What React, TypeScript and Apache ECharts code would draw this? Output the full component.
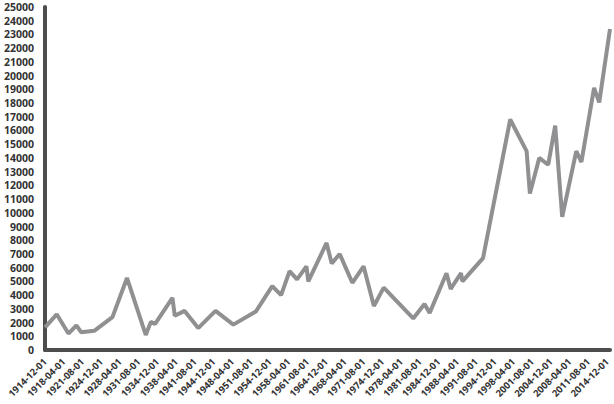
import React, { useEffect, useRef } from 'react';
import * as echarts from 'echarts';

// Vertices of the series (year-month, value)
const dates: string[] = [
  '1914-12', '1917-01', '1919-02', '1920-07', '1921-05', '1923-09', '1926-12',
  '1929-07', '1932-11', '1933-10', '1934-07', '1937-08', '1938-01', '1939-10',
  '1942-03', '1945-04', '1948-06', '1952-06', '1955-05', '1956-12', '1958-06',
  '1959-10', '1961-06', '1961-10', '1965-01', '1965-12', '1967-05', '1969-08',
  '1971-08', '1973-06', '1975-03', '1980-06', '1982-06', '1983-05', '1986-05',
  '1987-02', '1988-12', '1989-03', '1992-11', '1997-09', '2000-08', '2001-03',
  '2002-11', '2004-06', '2005-09', '2006-12', '2009-06', '2010-05', '2012-08',
  '2013-07', '2015-06',
];

const values: number[] = [
  1650, 2600, 1200, 1800, 1300, 1400, 2400,
  5250, 1100, 2050, 1900, 3800, 2500, 2850,
  1600, 2850, 1850, 2800, 4650, 4000, 5750,
  5150, 6100, 5000, 7800, 6300, 7000, 4900,
  6100, 3200, 4550, 2300, 3350, 2700, 5600,
  4450, 5600, 5000, 6700, 16800, 14500, 11400,
  14000, 13500, 16350, 9700, 14500, 13700, 19100,
  18050, 23400,
];

// Labels of the x axis, one every 40 months from 1914-12
const xTickLabels: string[] = [
  '1914-12-01', '1918-04-01', '1921-08-01', '1924-12-01', '1928-04-01',
  '1931-08-01', '1934-12-01', '1938-04-01', '1941-08-01', '1944-12-01',
  '1948-04-01', '1951-08-01', '1954-12-01', '1958-04-01', '1961-08-01',
  '1964-12-01', '1968-04-01', '1971-08-01', '1974-12-01', '1978-04-01',
  '1981-08-01', '1984-12-01', '1988-04-01', '1991-08-01', '1994-12-01',
  '1998-04-01', '2001-08-01', '2004-12-01', '2008-04-01', '2011-08-01',
  '2014-12-01',
];

const TICK_STEP = 40; // months between x labels

// months elapsed since 1914-12
const monthIndex = (d: string) => {
  const [y, m] = d.split('-').map(Number);
  return (y - 1914) * 12 + (m - 12);
};

const AXIS_COLOR = '#4d4d4d';
const LINE_COLOR = '#909092';
const LABEL_FONT = '"Open Sans", "DejaVu Sans", sans-serif';

export default function App() {
  const ref = useRef<HTMLDivElement>(null);

  useEffect(() => {
    if (!ref.current) return;
    const chart = echarts.init(ref.current, undefined, { renderer: 'svg' });

    chart.setOption({
      animation: false,
      grid: {
        left: 45,
        right: 4,
        top: 7,
        bottom: 54,
        containLabel: false,
        outerBoundsMode: 'none',
      },
      xAxis: {
        type: 'value',
        min: 0,
        max: monthIndex(dates[dates.length - 1]),
        interval: TICK_STEP,
        splitLine: { show: false },
        axisTick: { show: false },
        axisLine: { show: true, lineStyle: { color: AXIS_COLOR, width: 4 } },
        axisLabel: {
          rotate: 45,
          margin: 10,
          fontSize: 9.5,
          fontWeight: 'bold',
          fontFamily: LABEL_FONT,
          color: '#333',
          showMaxLabel: false,
          formatter: (v: number) =>
            v % TICK_STEP === 0 ? xTickLabels[v / TICK_STEP] ?? '' : '',
        },
      },
      yAxis: {
        type: 'value',
        min: 0,
        max: 25000,
        interval: 1000,
        splitLine: { show: false },
        axisTick: { show: false },
        axisLine: { show: true, lineStyle: { color: AXIS_COLOR, width: 4 } },
        axisLabel: {
          margin: 11,
          fontSize: 10.5,
          fontWeight: 'bold',
          fontFamily: LABEL_FONT,
          color: '#333',
          formatter: (v: number) => String(v),
        },
      },
      series: [
        {
          type: 'line',
          data: dates.map((d, i) => [monthIndex(d), values[i]]),
          symbol: 'none',
          lineStyle: { color: LINE_COLOR, width: 4 },
        },
      ],
    });

    return () => {
      chart.dispose();
    };
  }, []);

  return (
    <div
      ref={ref}
      style={{ position: 'absolute', left: 0, top: 0, width: 614, height: 404, background: '#fff' }}
    />
  );
}
